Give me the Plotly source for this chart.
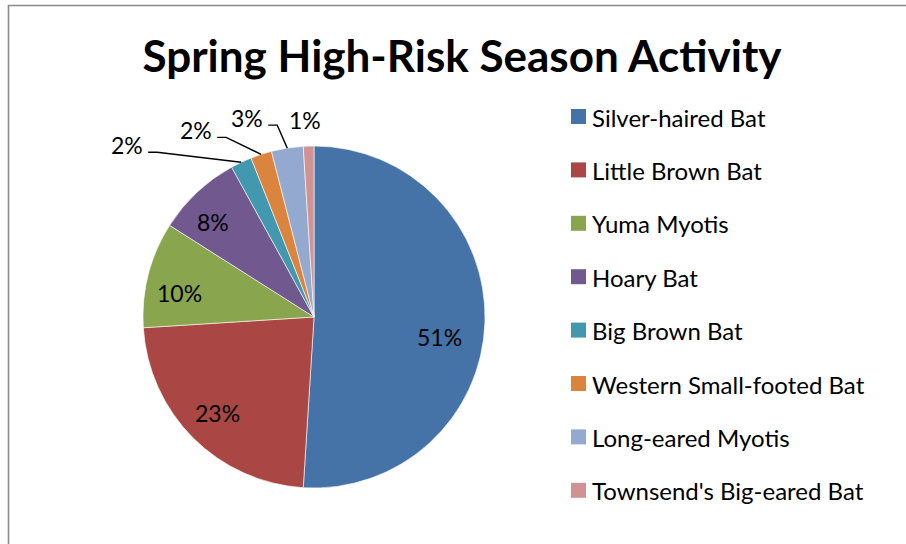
import math
import plotly.graph_objects as go

# Spring high-risk season activity by species (percent of recorded passes)
species = [
    "Silver-haired Bat",
    "Little Brown Bat",
    "Yuma Myotis",
    "Hoary Bat",
    "Big Brown Bat",
    "Western Small-footed Bat",
    "Long-eared Myotis",
    "Townsend's Big-eared Bat",
]
activity_pct = [51, 23, 10, 8, 2, 2, 3, 1]

colors = ["#4572A7", "#AA4643", "#89A54E", "#71588F",
          "#4198AF", "#DB843D", "#93A9CF", "#D19392"]

W, H = 906, 544
CX, CY, R = 314, 317, 171          # pie centre and radius in pixels
FONT = "Lato, 'Open Sans', sans-serif"


def px(x):
    return x / W


def py(y):
    return 1 - y / H


# label placement: inside labels sit on a ring, small slices get callouts
inside_ring = 0.78
inside_nudge = {0: (-8, 16), 1: (-2, 2), 2: (-5, 9), 3: (-10, 2)}
callout_offset = {4: (-114, -17), 5: (-65, -24), 6: (-40, -30), 7: (-4, -26)}
callout_leader = {4: True, 5: True, 6: True, 7: False}

fig = go.Figure(go.Pie(
    labels=species,
    values=activity_pct,
    sort=False,
    direction="clockwise",
    rotation=0,
    marker=dict(colors=colors, line=dict(color="white", width=0.6)),
    textinfo="none",
    hoverinfo="label+percent",
    showlegend=False,
    domain=dict(x=[px(CX - R), px(CX + R)], y=[py(CY + R), py(CY - R)]),
))

annotations = []
shapes = []
total = sum(activity_pct)
cum = 0.0
for i, v in enumerate(activity_pct):
    mid = (cum + v / 2) / total
    cum += v
    th = 2 * math.pi * mid
    sx, sy = math.sin(th), -math.cos(th)
    text = f"{round(100 * v / total)}%"
    if i in inside_nudge:
        dx, dy = inside_nudge[i]
        lx = CX + inside_ring * R * sx + dx
        ly = CY + inside_ring * R * sy + dy
    else:
        ax_, ay_ = CX + R * sx, CY + R * sy
        dx, dy = callout_offset[i]
        lx, ly = ax_ + dx, ay_ + dy
        if callout_leader[i]:
            x0, y0 = lx + 21, ly + 7
            x1 = x0 + 9
            shapes.append(dict(
                type="path", xref="paper", yref="paper",
                path=f"M {px(x0)},{py(y0)} L {px(x1)},{py(y0)} L {px(ax_)},{py(ay_)}",
                line=dict(color="black", width=1.4),
            ))
    annotations.append(dict(
        x=px(lx), y=py(ly), xref="paper", yref="paper",
        text=text, showarrow=False, xanchor="center", yanchor="middle",
        font=dict(family=FONT, size=23, color="black"),
    ))

# legend drawn as swatches with labels
LEG_X, LEG_Y0, LEG_STEP, SW = 571, 117, 53.4, 15
for i, (name, col) in enumerate(zip(species, colors)):
    yc = LEG_Y0 + i * LEG_STEP
    shapes.append(dict(
        type="rect", xref="paper", yref="paper",
        x0=px(LEG_X), x1=px(LEG_X + SW), y0=py(yc + SW / 2 - 0.5), y1=py(yc - SW / 2 - 0.5),
        fillcolor=col, line=dict(width=0),
    ))
    annotations.append(dict(
        x=px(LEG_X + SW + 4), y=py(yc), xref="paper", yref="paper",
        text=name, showarrow=False, xanchor="left", yanchor="middle",
        font=dict(family=FONT, size=24, color="black"),
    ))

# chart frame
shapes.append(dict(
    type="rect", xref="paper", yref="paper",
    x0=px(8.5), x1=px(W + 20), y0=py(H + 20), y1=py(5.5),
    line=dict(color="#8a8a8a", width=1.6), fillcolor="rgba(0,0,0,0)",
))

fig.update_layout(
    width=W, height=H,
    margin=dict(l=0, r=0, t=0, b=0),
    paper_bgcolor="white",
    plot_bgcolor="white",
    title=dict(
        text="<b>Spring High-Risk Season Activity</b>",
        x=px(462), xanchor="center", y=py(57), yanchor="middle",
        font=dict(family=FONT, size=44, color="black"),
    ),
    annotations=annotations,
    shapes=shapes,
)

fig.write_html("out.html")
